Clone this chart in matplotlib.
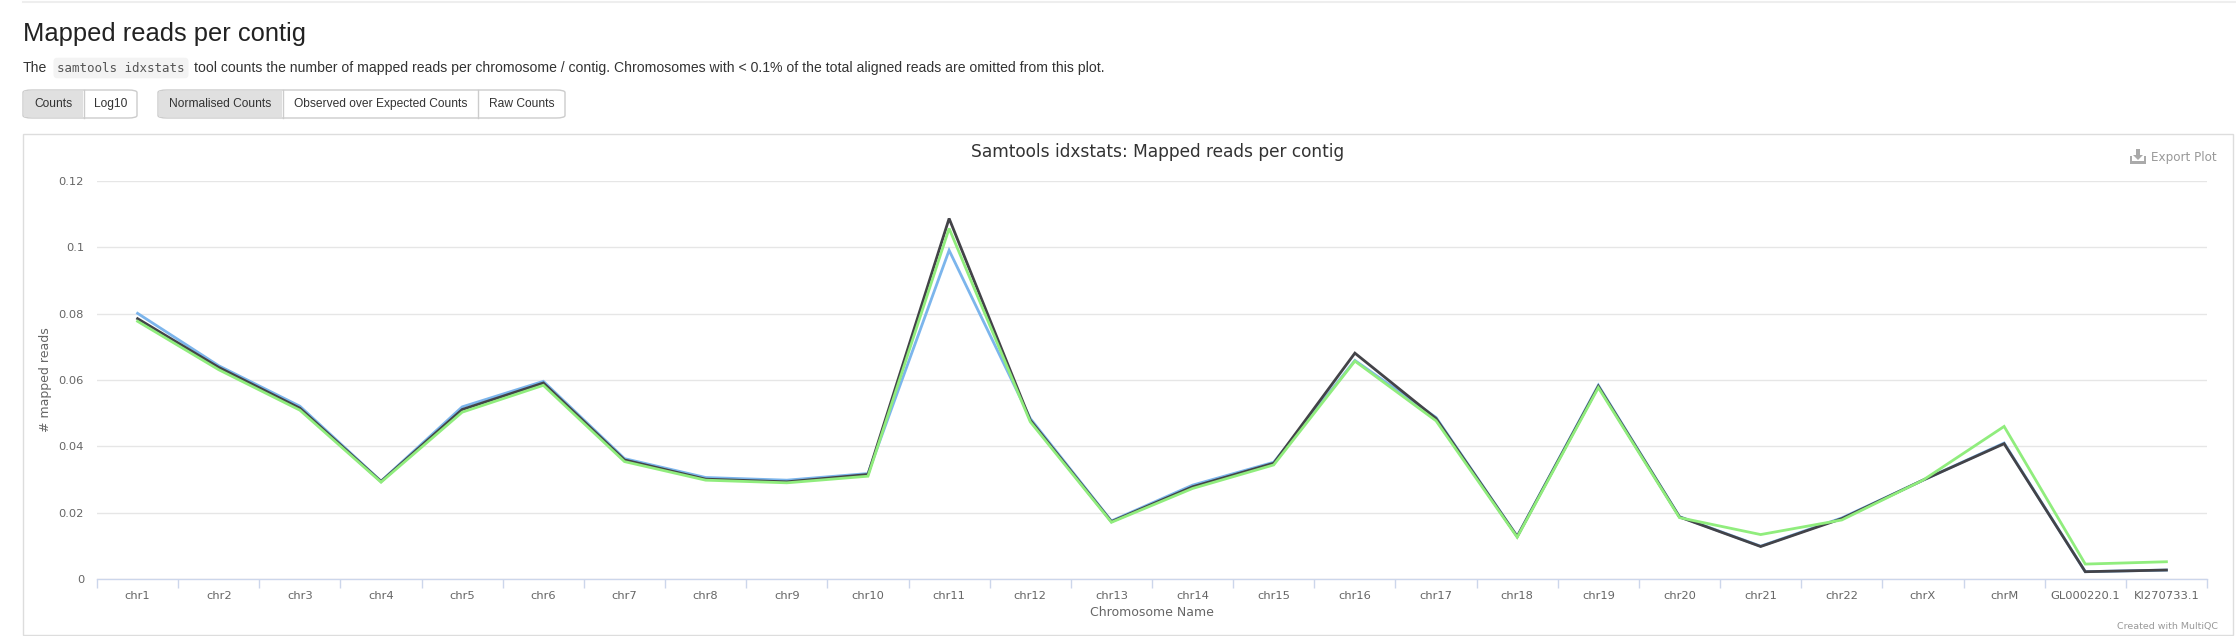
import matplotlib
matplotlib.use("Agg")
from matplotlib import pyplot as plt
from matplotlib.patches import Rectangle, FancyBboxPatch, Polygon

# categories (x axis)
chromosomes = ["chr1", "chr2", "chr3", "chr4", "chr5", "chr6", "chr7", "chr8", "chr9",
               "chr10", "chr11", "chr12", "chr13", "chr14", "chr15", "chr16", "chr17",
               "chr18", "chr19", "chr20", "chr21", "chr22", "chrX", "chrM",
               "GL000220.1", "KI270733.1"]

# normalised counts per sample
sample_blue = [0.0801, 0.0643, 0.0521, 0.0295, 0.0519, 0.0596, 0.0363, 0.0306, 0.0298,
               0.0318, 0.0991, 0.0484, 0.0175, 0.0283, 0.0352, 0.0659, 0.0487, 0.0129,
               0.0584, 0.0188, 0.0099, 0.0184, 0.0298, 0.0410, 0.0022, 0.0027]
sample_black = [0.0785, 0.0638, 0.0515, 0.0294, 0.0511, 0.0591, 0.0359, 0.0301, 0.0293,
                0.0315, 0.1087, 0.0479, 0.0173, 0.0278, 0.0349, 0.0681, 0.0484, 0.0128,
                0.0581, 0.0187, 0.0098, 0.0182, 0.0298, 0.0408, 0.0022, 0.0027]
sample_green = [0.0777, 0.0631, 0.0509, 0.0292, 0.0503, 0.0584, 0.0354, 0.0298, 0.0290,
                0.0310, 0.1057, 0.0474, 0.0171, 0.0273, 0.0344, 0.0657, 0.0477, 0.0126,
                0.0577, 0.0185, 0.0134, 0.0178, 0.0298, 0.0460, 0.0045, 0.0052]

yticks = [0, 0.02, 0.04, 0.06, 0.08, 0.1, 0.12]
ytick_labels = ["0", "0.02", "0.04", "0.06", "0.08", "0.1", "0.12"]

W, H = 2236, 636
SANS = "Liberation Sans"
CHART = "DejaVu Sans"


def fx(px):
  return px / W


def fy(py):
  return 1 - py / H


def px2pt(px):
  return px * 72 / 100


def main():
  fig = plt.figure(figsize=(W / 100, H / 100), dpi=100)
  renderer = fig.canvas.get_renderer()

  # page chrome
  fig.add_artist(plt.Line2D([fx(23), 1], [fy(2), fy(2)], color="#eeeeee", lw=1.5))
  fig.text(fx(23), fy(34), "Mapped reads per contig", fontsize=px2pt(25.5), family=SANS,
           color="#222222", va="center", ha="left")

  # description line with inline code
  desc_y = fy(68)
  desc_size = px2pt(14)
  t = fig.text(fx(23), desc_y, "The", fontsize=desc_size, family=SANS, color="#333333",
               va="center", ha="left")
  x_end = t.get_window_extent(renderer).x1
  code = fig.text((x_end + 10) / W, desc_y, "samtools idxstats", fontsize=px2pt(12.5),
                  family="DejaVu Sans Mono", color="#555555", va="center", ha="left",
                  bbox=dict(boxstyle="round,pad=0.3", fc="#f3f3f3", ec="none"))
  x_end = code.get_window_extent(renderer).x1
  fig.text((x_end + 9) / W, desc_y,
           "tool counts the number of mapped reads per chromosome / contig. "
           "Chromosomes with < 0.1% of the total aligned reads are omitted from this plot.",
           fontsize=desc_size, family=SANS, color="#333333", va="center", ha="left")

  # button groups
  groups = [
    [("Counts", 23, 84, True), ("Log10", 84, 137, False)],
    [("Normalised Counts", 158, 283, True), ("Observed over Expected Counts", 283, 478, False),
     ("Raw Counts", 478, 565, False)],
  ]
  by0, by1 = 90, 118
  for group in groups:
    gx0, gx1 = group[0][1], group[-1][2]
    fig.add_artist(FancyBboxPatch((fx(gx0), fy(by1)), fx(gx1 - gx0), (by1 - by0) / H,
                                  boxstyle="round,pad=0,rounding_size=0.004",
                                  fc="white", ec="#cccccc", lw=1, transform=fig.transFigure))
    for label, x0, x1, active in group:
      if active:
        fig.add_artist(Rectangle((fx(x0 + 1), fy(by1 - 1)), fx(x1 - x0 - 2), (by1 - by0 - 2) / H,
                                 fc="#e0e0e0", ec="none", transform=fig.transFigure))
      if x1 != gx1:
        fig.add_artist(plt.Line2D([fx(x1), fx(x1)], [fy(by0), fy(by1)], color="#cccccc", lw=1))
      fig.text(fx((x0 + x1) / 2), fy((by0 + by1) / 2), label, fontsize=px2pt(12), family=SANS,
               color="#333333", va="center", ha="center")

  # plot frame
  fig.add_artist(Rectangle((fx(23), fy(635)), fx(2233 - 23), (635 - 134) / H,
                           fc="none", ec="#dddddd", lw=1, transform=fig.transFigure))
  fig.text(fx(1158), fy(152), "Samtools idxstats: Mapped reads per contig", fontsize=px2pt(17),
           family=CHART, color="#333333", va="center", ha="center")
  fig.text(fx(2217), fy(157), "Export Plot", fontsize=px2pt(12), family=CHART,
           color="#999999", va="center", ha="right")
  # download icon
  ix, iy = 2138, 157
  fig.add_artist(Polygon([(fx(ix - 8), fy(iy - 1)), (fx(ix - 8), fy(iy + 7)), (fx(ix + 8), fy(iy + 7)),
                          (fx(ix + 8), fy(iy - 1)), (fx(ix + 6), fy(iy - 1)), (fx(ix + 6), fy(iy + 4)),
                          (fx(ix - 6), fy(iy + 4)), (fx(ix - 6), fy(iy - 1))],
                         closed=True, fc="#aaaaaa", ec="none", transform=fig.transFigure))
  fig.add_artist(Polygon([(fx(ix - 2), fy(iy - 8)), (fx(ix + 2), fy(iy - 8)), (fx(ix + 2), fy(iy - 2)),
                          (fx(ix + 5), fy(iy - 2)), (fx(ix), fy(iy + 3)), (fx(ix - 5), fy(iy - 2)),
                          (fx(ix - 2), fy(iy - 2))],
                         closed=True, fc="#aaaaaa", ec="none", transform=fig.transFigure))
  fig.text(fx(2218), fy(626), "Created with MultiQC", fontsize=px2pt(9.5), family=CHART,
           color="#999999", va="center", ha="right")

  # the chart itself
  ax = fig.add_axes([fx(97), fy(579), fx(2207 - 97), (579 - 181) / H])
  x = list(range(len(chromosomes)))
  ax.plot(x, sample_blue, color="#7cb5ec", lw=2, solid_joinstyle="miter")
  ax.plot(x, sample_black, color="#434348", lw=2, solid_joinstyle="miter")
  ax.plot(x, sample_green, color="#90ed7d", lw=2, solid_joinstyle="miter")

  ax.set_xlim(-0.5, len(chromosomes) - 0.5)
  ax.set_ylim(0, 0.12)
  ax.set_yticks(yticks)
  ax.set_yticklabels(ytick_labels)
  ax.set_xticks(x)
  ax.set_xticklabels(chromosomes)
  ax.set_xticks([i - 0.5 for i in range(len(chromosomes) + 1)], minor=True)
  ax.tick_params(axis="x", which="major", length=0, pad=px2pt(12), labelsize=px2pt(11.5),
                 labelcolor="#666666")
  ax.tick_params(axis="x", which="minor", length=px2pt(9), width=1, color="#ccd6eb")
  ax.tick_params(axis="y", length=0, pad=px2pt(13), labelsize=px2pt(11.5), labelcolor="#666666")
  for lab in ax.get_xticklabels() + ax.get_yticklabels():
    lab.set_family(CHART)

  ax.grid(axis="y", color="#e6e6e6", lw=1)
  ax.set_axisbelow(True)
  for side in ["top", "right", "left"]:
    ax.spines[side].set_visible(False)
  ax.spines["bottom"].set_color("#ccd6eb")
  ax.spines["bottom"].set_linewidth(1)
  ax.spines["bottom"].set_zorder(0.5)

  ax.set_xlabel("Chromosome Name", fontsize=px2pt(12.5), color="#666666", family=CHART,
                labelpad=px2pt(5))
  fig.text(fx(46), fy(380), "# mapped reads", rotation=90, fontsize=px2pt(12.5), family=CHART,
           color="#666666", va="center", ha="center")

  fig.savefig("out.png", dpi=100)


if __name__ == "__main__":
  main()
